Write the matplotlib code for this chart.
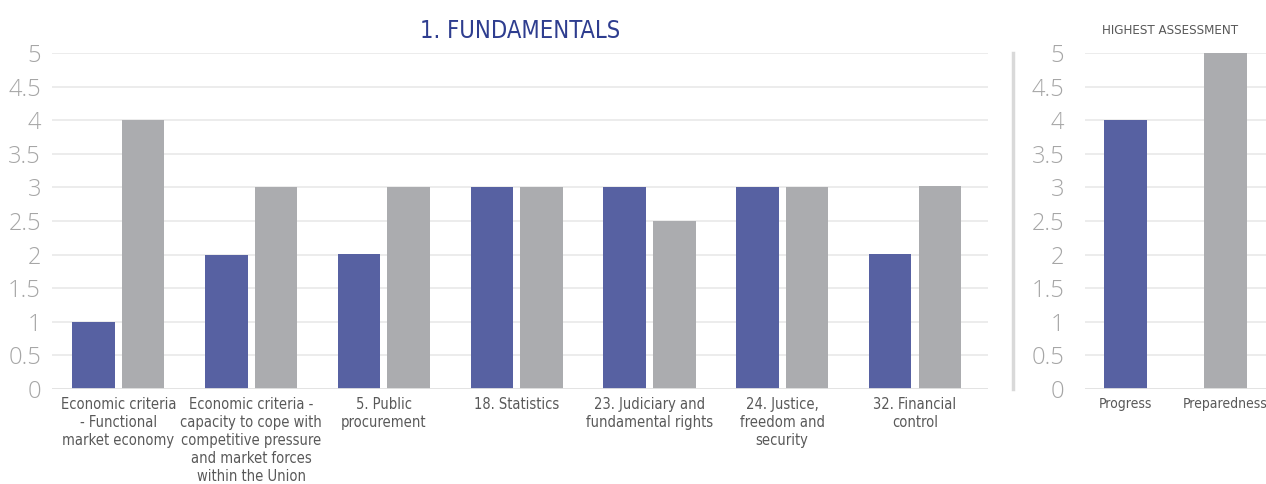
import matplotlib.pyplot as plt
from matplotlib.lines import Line2D
import numpy as np

# data
categories = ['Economic criteria\n- Functional\nmarket economy',
              'Economic criteria -\ncapacity to cope with\ncompetitive pressure\nand market forces\nwithin the Union',
              '5. Public\nprocurement',
              '18. Statistics',
              '23. Judiciary and\nfundamental rights',
              '24. Justice,\nfreedom and\nsecurity',
              '32. Financial\ncontrol']
progress = [1, 2, 2.01, 3, 3, 3.01, 2.01]
preparedness = [4, 3, 3.01, 3, 2.5, 3.01, 3.02]

summary_labels = ['Progress', 'Preparedness']
summary_values = [4, 5]

yticks = np.arange(0, 5.01, 0.5)
ytick_labels = ['0', '0.5', '1', '1.5', '2', '2.5', '3', '3.5', '4', '4.5', '5']

BLUE = '#5761a2'
GREY = '#abacaf'
GRID = '#ebebeb'
TICK = '#a6a6a6'
LABEL = '#595959'
TITLE = '#2e3d8f'

cond = dict(family='DejaVu Sans', fontstretch='condensed')
light = ['Open Sans', 'DejaVu Sans']

fig = plt.figure(figsize=(12.66, 4.84), dpi=100)

# ------------------- main panel -------------------
ax = fig.add_axes([52 / 1266, 95 / 484, 936 / 1266, 336 / 484])
x = np.arange(len(categories))
w = 0.32
ax.bar(x - 0.187, progress, w, color=BLUE, zorder=3)
ax.bar(x + 0.187, preparedness, w, color=GREY, zorder=3)
ax.set_xlim(-0.5, 6.55)
ax.set_ylim(0, 5)

# ------------------- right panel -------------------
ax2 = fig.add_axes([1085 / 1266, 95 / 484, 181 / 1266, 336 / 484])
ax2.bar([0, 1], summary_values, 0.43, color=[BLUE, GREY], zorder=3)
ax2.set_xlim(-0.405, 1.405)
ax2.set_ylim(0, 5)

for a, pad in ((ax, 8), (ax2, 15)):
    a.set_yticks(yticks)
    a.set_yticklabels(ytick_labels, family=light, fontweight='light',
                      fontsize=17, color=TICK)
    a.tick_params(axis='y', length=0, pad=pad)
    a.tick_params(axis='x', length=0, pad=6)
    a.grid(axis='y', color=GRID, linewidth=1.3, zorder=0)
    for s in a.spines.values():
        s.set_visible(False)
    a.axhline(0, color='#e3e3e3', linewidth=2, zorder=4)

ax.set_xticks(x)
ax.set_xticklabels(categories, fontsize=10.5, color=LABEL,
                   linespacing=1.25, **cond)
ax2.set_xticks([0, 1])
ax2.set_xticklabels(summary_labels, fontsize=10, color=LABEL, **cond)

# separator line between panels
fig.add_artist(Line2D([1013 / 1266, 1013 / 1266], [95 / 484, 431 / 484],
                      color='#d9d9d9', linewidth=2.5))

fig.text(520 / 1266, 1 - 31 / 484, '1. FUNDAMENTALS', fontsize=17,
         color=TITLE, ha='center', va='center', **cond)
fig.text(1170 / 1266, 1 - 31 / 484, 'HIGHEST ASSESSMENT', fontsize=9.5,
         color=LABEL, ha='center', va='center', **cond)

fig.savefig('out.png', dpi=100)
